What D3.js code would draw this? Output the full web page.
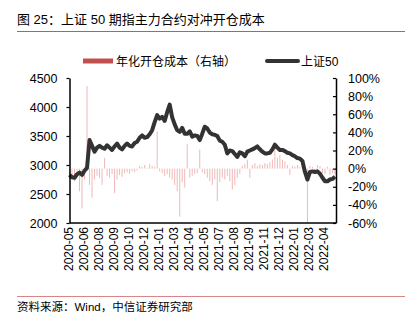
<!DOCTYPE html>
<html>
<head>
<meta charset="utf-8">
<script src="https://cdn.jsdelivr.net/npm/d3@7/dist/d3.min.js"></script>
<style>
  html, body { margin: 0; padding: 0; background: #fff; }
  svg { display: block; }
  text { font-family: "Liberation Sans", Arial, "Noto Sans CJK SC", sans-serif; fill: #000; }
</style>
</head>
<body>
<svg id="chart" width="405" height="326"></svg>
<script>
// 上证50 index level, sampled at regular intervals from 2020-05 to 2022-05
const indexLevel = [
  2830, 2790, 2780, 2840, 2870, 2830, 2900, 2950, 3430, 3330,
  3230, 3300, 3330, 3300, 3280, 3340, 3300, 3260, 3320, 3370,
  3300, 3270, 3330, 3370, 3330, 3320, 3380, 3400, 3470, 3510,
  3470, 3480, 3530, 3600, 3740, 3860, 3800, 3830, 3760, 3910,
  4040, 3820, 3700, 3600, 3570, 3640, 3540, 3540, 3580, 3490,
  3510, 3500, 3430, 3540, 3660, 3630, 3560, 3530, 3520, 3500,
  3420, 3400, 3350, 3200, 3250, 3240, 3190, 3140, 3220, 3200,
  3150, 3230, 3250, 3270, 3290, 3320, 3270, 3230, 3200, 3200,
  3210, 3270, 3350, 3300, 3260, 3260, 3240, 3210, 3200, 3170,
  3150, 3120, 3110, 3070, 2880, 2750, 2880, 2890, 2880, 2890,
  2850, 2780, 2720, 2720, 2750, 2760, 2800
];

// Annualised hedging cost of the main IH contract, in percent (right axis)
const hedgeCost = [
  -6, -10, -14, -9, -25, -44, -12, 91, -18, -32,
  -12, -8, -10, -18, 12, -8, -10, -6, -27, -12,
  -7, -9, -5, -4, -6, -3, -4, -2, 3, 2,
  4, 1, 5, 3, 2, 41, -3, -5, -8, -6,
  -10, -12, -18, -25, -53, -15, -21, 27, -10, -8,
  -6, -5, 21, -4, -6, -10, -14, -18, -12, -36,
  -15, -10, -12, -8, -14, -23, -18, -10, -6, 3,
  5, 10, -10, 4, 6, 3, 5, 4, 6, 5,
  7, 10, 25, 12, 15, 10, 8, 4, -7, 3,
  2, 4, 2, 3, 1, -60, 3, 2, -3, 4,
  3, -5, -6, 2, -7, -5, -6
];

// Category labels shown on the time axis, one every `labelEvery` samples
const tickLabels = [
  "2020-05", "2020-06", "2020-08", "2020-09", "2020-10", "2020-12",
  "2021-01", "2021-03", "2021-04", "2021-05", "2021-07", "2021-08",
  "2021-09", "2021-11", "2021-12", "2022-01", "2022-03", "2022-04"
];
const labelEvery = 6;

const leftTicks = [2000, 2500, 3000, 3500, 4000, 4500];
const rightTicks = [-60, -40, -20, 0, 20, 40, 60, 80, 100];

const svg = d3.select("#chart");

const plot = { left: 69.5, right: 336, top: 78, bottom: 223 };

const x = d3.scaleLinear()
  .domain([0, indexLevel.length - 1])
  .range([plot.left, 335]);
const yL = d3.scaleLinear().domain([2000, 4500]).range([plot.bottom, plot.top]);
const yR = d3.scaleLinear().domain([-60, 100]).range([plot.bottom, plot.top]);

// Title and rules
svg.append("text")
  .attr("x", 17).attr("y", 24)
  .attr("font-size", 13)
  .text("图 25：上证 50 期指主力合约对冲开仓成本");
svg.append("line")
  .attr("x1", 17).attr("x2", 405).attr("y1", 31.5).attr("y2", 31.5)
  .attr("stroke", "#c8585a").attr("stroke-width", 1.2);

svg.append("line")
  .attr("x1", 17).attr("x2", 405).attr("y1", 296.5).attr("y2", 296.5)
  .attr("stroke", "#d98585").attr("stroke-width", 1.2);
svg.append("text")
  .attr("x", 17).attr("y", 311)
  .attr("font-size", 11.5)
  .text("资料来源：Wind，中信证券研究部");

// Legend
svg.append("rect")
  .attr("x", 83).attr("y", 58.5).attr("width", 30).attr("height", 5)
  .attr("fill", "#c0504d");
svg.append("text")
  .attr("x", 116).attr("y", 65.5).attr("font-size", 12)
  .text("年化开仓成本（右轴）");
svg.append("line")
  .attr("x1", 267).attr("x2", 298).attr("y1", 61).attr("y2", 61)
  .attr("stroke", "#333").attr("stroke-width", 4).attr("stroke-linecap", "round");
svg.append("text")
  .attr("x", 301).attr("y", 65.5).attr("font-size", 12)
  .text("上证50");

// Hedging cost bars: thin, light strokes
svg.append("g")
  .selectAll("line")
  .data(hedgeCost)
  .join("line")
  .attr("x1", (d, i) => x(i)).attr("x2", (d, i) => x(i))
  .attr("y1", yR(0)).attr("y2", d => yR(d))
  .attr("stroke", "#eaa6a6")
  .attr("stroke-width", 0.8);

// Index line
svg.append("path")
  .datum(indexLevel)
  .attr("fill", "none")
  .attr("stroke", "#333")
  .attr("stroke-width", 4)
  .attr("stroke-linejoin", "round")
  .attr("d", d3.line().x((d, i) => x(i)).y(d => yL(d)));

// Left axis
const gL = svg.append("g")
  .attr("transform", `translate(${plot.left},0)`)
  .call(d3.axisLeft(yL).tickValues(leftTicks).tickFormat(d3.format("d"))
    .tickSize(3).tickPadding(9).tickSizeOuter(0));
gL.selectAll("text").attr("font-size", 12.5).attr("fill", "#000");

// Right axis, ticks pointing inward
const gR = svg.append("g")
  .attr("transform", `translate(${plot.right},0)`)
  .call(d3.axisRight(yR).tickValues(rightTicks).tickFormat(d => d + "%")
    .tickSize(0).tickPadding(12));
gR.selectAll(".tick line").attr("x2", -3);
gR.selectAll("text").attr("font-size", 12.5).attr("fill", "#000");

[gL, gR].forEach(g => {
  g.select(".domain").attr("stroke", "#000").attr("stroke-width", 1.5);
  g.selectAll(".tick line").attr("stroke", "#000").attr("stroke-width", 1.2);
});

// Bottom axis line
svg.append("line")
  .attr("x1", plot.left).attr("x2", plot.right)
  .attr("y1", plot.bottom).attr("y2", plot.bottom)
  .attr("stroke", "#000").attr("stroke-width", 1.5);

// Rotated date labels
svg.append("g")
  .selectAll("text")
  .data(tickLabels)
  .join("text")
  .attr("transform", (d, k) => `translate(${x(k * labelEvery) - 1},227) rotate(-90)`)
  .attr("text-anchor", "end")
  .attr("dy", "0.35em")
  .attr("font-size", 12)
  .text(d => d);
</script>
</body>
</html>
